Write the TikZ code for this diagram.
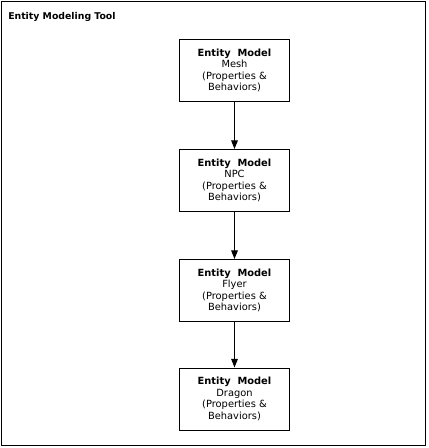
\documentclass[tikz,border=0pt]{standalone}
\usepackage{fontspec}
\setmainfont{DejaVu Sans}
\usetikzlibrary{arrows.meta}
\begin{document}
\begin{tikzpicture}[x=0.75pt,y=-0.75pt,
  model/.style={draw,line width=0.75pt,minimum width=83pt,minimum height=46.5pt,
    align=center,inner sep=0pt,font=\fontsize{7.4}{8.6}\selectfont},
  flow/.style={line width=0.75pt,-{Triangle[length=6.5pt,width=5pt]}}]
\useasboundingbox (0,0) rectangle (428,448);
\draw[line width=0.75pt] (1.5,1.5) rectangle (425.5,445.5);
\node[anchor=base west,inner sep=0pt,font=\fontsize{7}{8.6}\selectfont\bfseries] (title) at (8,20) {Entity Modeling Tool};
\node[model] (m1) at (234.5,70.5) {\textbf{Entity\ \ Model}\\Mesh\\(Properties \&\\Behaviors)};
\node[model] (m2) at (234.5,180.5) {\textbf{Entity\ \ Model}\\NPC\\(Properties \&\\Behaviors)};
\node[model] (m3) at (234.5,290.5) {\textbf{Entity\ \ Model}\\Flyer\\(Properties \&\\Behaviors)};
\node[model] (m4) at (234.5,399) {\textbf{Entity\ \ Model}\\Dragon\\(Properties \&\\Behaviors)};
\draw[flow] (m1) -- (m2);
\draw[flow] (m2) -- (m3);
\draw[flow] (m3) -- (m4);
\end{tikzpicture}
\end{document}
